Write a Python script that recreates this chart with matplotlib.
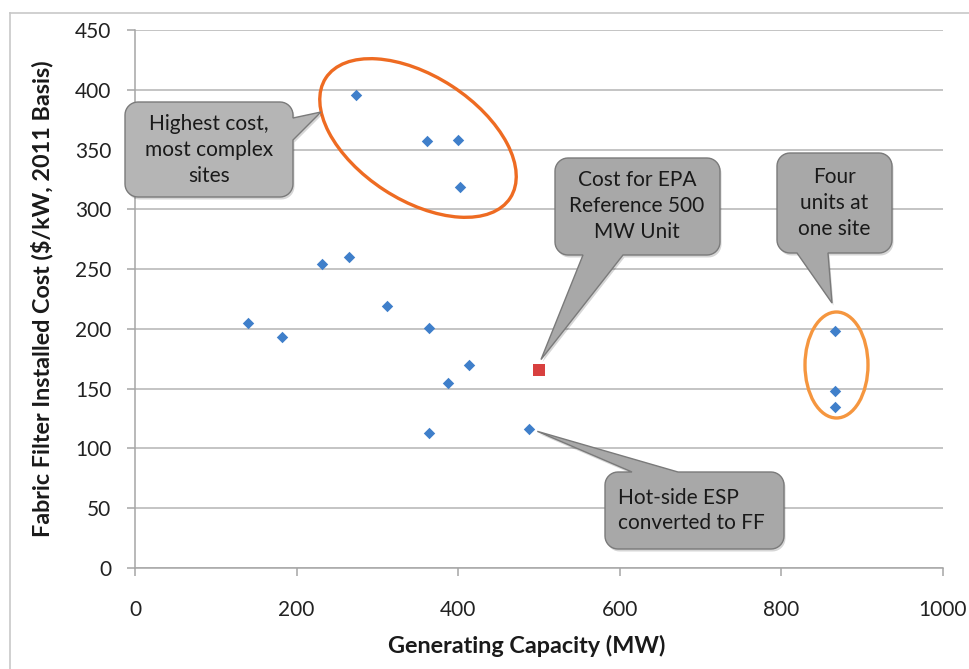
import numpy as np
import matplotlib
matplotlib.use("Agg")
import matplotlib.pyplot as plt
from matplotlib.path import Path
from matplotlib.patches import PathPatch, Ellipse
from matplotlib.transforms import Affine2D
from matplotlib.lines import Line2D

# Fabric filter retrofit projects
capacity_mw = [274, 361, 400, 402, 140, 182, 231, 265, 312, 364, 413, 387, 364, 488, 866, 866, 866]
cost_per_kw = [396, 357, 358, 319, 205, 193, 254, 260, 219, 201, 170, 155, 113, 116, 198, 148, 135]

# EPA reference unit
ref_capacity = [500]
ref_cost = [166]

x_ticks = [0, 200, 400, 600, 800, 1000]
y_ticks = [0, 50, 100, 150, 200, 250, 300, 350, 400, 450]

FONT = ["Lato", "DejaVu Sans"]
plt.rcParams["font.family"] = FONT

W, H = 969, 669
fig = plt.figure(figsize=(W / 100, H / 100), dpi=100)
ax = fig.add_axes([135 / W, 1 - 568 / H, (943 - 135) / W, (568 - 30) / H])

# pixel frame with origin at top-left
px = Affine2D().scale(1, -1).translate(0, H).scale(1 / 100) + fig.dpi_scale_trans

ax.scatter(capacity_mw, cost_per_kw, marker="D", s=34, color="#3f7fca", zorder=3, linewidths=0)
ax.scatter(ref_capacity, ref_cost, marker="s", s=64, color="#d8403f", zorder=3, linewidths=0)

ax.set_xlim(0, 1000)
ax.set_ylim(0, 450)
ax.set_xticks(x_ticks)
ax.set_yticks(y_ticks)
ax.grid(axis="y", color="#b4b4b4", linewidth=1.1)
ax.set_axisbelow(True)
for side in ("top", "right"):
    ax.spines[side].set_visible(False)
for side in ("left", "bottom"):
    ax.spines[side].set_color("#a6a6a6")
    ax.spines[side].set_linewidth(1.1)
ax.tick_params(axis="x", direction="out", length=6, color="#a6a6a6", width=1.1,
               labelsize=15, labelcolor="#222222", pad=17)
ax.tick_params(axis="y", direction="out", length=6, color="#a6a6a6", width=1.1,
               labelsize=15, labelcolor="#222222", pad=11)

ax.set_xlabel("Generating Capacity (MW)", fontsize=16.8, fontweight="bold", color="#1a1a1a")
ax.set_ylabel("Fabric Filter Installed Cost ($/kW, 2011 Basis)", fontsize=16.8,
              fontweight="bold", color="#1a1a1a")
ax.xaxis.set_label_coords((527 - 135) / 808, -(646 - 568) / 538)
ax.yaxis.set_label_coords(-(135 - 42) / 808, 0.5)
ax.xaxis.label.set_va("center")
ax.yaxis.label.set_va("center")

# outer chart border
fig.add_artist(Line2D([9.5, 9.5], [13, H + 5], transform=px, color="#c8c8c8", lw=1.2))
fig.add_artist(Line2D([9.5, W + 5], [13, 13], transform=px, color="#c8c8c8", lw=1.2))


def to_px(x, y):
    """Data coordinates -> top-left pixel coordinates."""
    dx, dy = ax.transData.transform((x, y))
    return dx, H - dy


def callout(x0, y0, x1, y1, side, a, b, tip, r=13):
    pts = []

    def arc(cx, cy, t0, t1):
        for t in np.linspace(np.radians(t0), np.radians(t1), 10):
            pts.append((cx + r * np.cos(t), cy + r * np.sin(t)))

    # top edge
    pts.append((x0 + r, y0))
    if side == "top":
        pts += [(a, y0), tip, (b, y0)]
    arc(x1 - r, y0 + r, -90, 0)
    if side == "right":
        pts += [(x1, a), tip, (x1, b)]
    arc(x1 - r, y1 - r, 0, 90)
    if side == "bottom":
        pts += [(b, y1), tip, (a, y1)]
    arc(x0 + r, y1 - r, 90, 180)
    arc(x0 + r, y0 + r, 180, 270)
    pts.append(pts[0])
    verts = np.array(pts)
    codes = [Path.MOVETO] + [Path.LINETO] * (len(verts) - 2) + [Path.CLOSEPOLY]
    return Path(verts, codes)


def draw_callout(path, face):
    shadow = PathPatch(path, transform=Affine2D().translate(1.5, 2.5) + px,
                       facecolor="black", edgecolor="none", alpha=0.16, zorder=4)
    fig.add_artist(shadow)
    fig.add_artist(PathPatch(path, transform=px, facecolor=face,
                             edgecolor="#7a7a7a", lw=1.0, zorder=5))


text_kw = dict(transform=px, fontsize=15, color="#1a1a1a", linespacing=1.35,
               va="center", zorder=6)

# orange ellipses around the high-cost and four-unit groups
fig.add_artist(Ellipse((418, 138), 220, 124, angle=33, transform=px, fill=False,
                       edgecolor="#ee6b22", lw=2.4, zorder=4))
fig.add_artist(Ellipse((836.5, 365), 63, 106, angle=0, transform=px, fill=False,
                       edgecolor="#f5963f", lw=2.4, zorder=4))

# callout boxes
draw_callout(callout(125, 102, 293, 197, "right", 118, 140, (321, 112)), "#b5b5b5")
fig.text(209, 150, "Highest cost,\nmost complex\nsites", ha="center", **text_kw)

rx, ry = to_px(ref_capacity[0], ref_cost[0])
draw_callout(callout(555, 158, 720, 255, "bottom", 583, 623, (rx + 2, ry - 10)), "#a8a8a8")
fig.text(637, 206, "Cost for EPA\nReference 500\nMW Unit", ha="center", **text_kw)

draw_callout(callout(777, 153, 892, 253, "bottom", 797, 828, (832, 303)), "#a8a8a8")
fig.text(834.5, 203, "Four\nunits at\none site", ha="center", **text_kw)

hx, hy = to_px(capacity_mw[13], cost_per_kw[13])
draw_callout(callout(605, 472, 784, 549, "top", 632, 678, (hx + 8, hy + 2)), "#a8a8a8")
fig.text(618, 510.5, "Hot-side ESP\nconverted to FF", ha="left", **text_kw)

fig.savefig("out.png", dpi=100)
